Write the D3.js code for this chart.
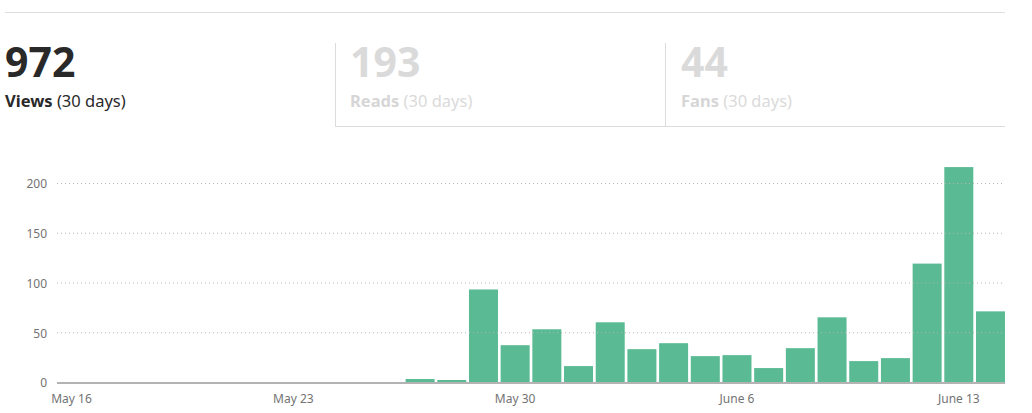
<!DOCTYPE html>
<html>
<head>
<meta charset="utf-8">
<script src="https://cdn.jsdelivr.net/npm/d3@7"></script>
<style>
  body { margin: 0; background: #fff; }
  svg { display: block; font-family: "Noto Sans", "Open Sans", sans-serif; }
</style>
</head>
<body>
<div id="chart"></div>
<script>
//// stats shown in the header tabs
const statValues = [972, 193, 44]
const statNames = ["Views", "Reads", "Fans"]
const statPeriod = "(30 days)"

//// daily views, May 16 .. June 14
const days = ["May 16", "May 17", "May 18", "May 19", "May 20", "May 21", "May 22", "May 23",
    "May 24", "May 25", "May 26", "May 27", "May 28", "May 29", "May 30", "May 31",
    "June 1", "June 2", "June 3", "June 4", "June 5", "June 6", "June 7", "June 8",
    "June 9", "June 10", "June 11", "June 12", "June 13", "June 14"]
const views = [0, 0, 0, 0, 0, 0, 0, 0, 0, 0, 0, 4, 3, 94, 38, 54,
    17, 61, 34, 40, 27, 28, 15, 35, 66, 22, 25, 120, 217, 72]
const xTickLabels = ["May 16", "May 23", "May 30", "June 6", "June 13"]
const yTicks = [0, 50, 100, 150, 200]

const width = 1032
const height = 413
const margin = {top: 184, right: 27, bottom: 29, left: 57}

const svg = d3.select("#chart").append("svg")
    .attr("width", width)
    .attr("height", height)

//// header: top rule, tabs and their dividers
svg.append("line")
    .attr("x1", 5).attr("x2", 1005)
    .attr("y1", 12.5).attr("y2", 12.5)
    .attr("stroke", "#dedede")

let tabX = [5, 350, 681]
let dividerX = [335.5, 665.5]
svg.selectAll(".divider")
    .data(dividerX)
    .join("line")
    .attr("class", "divider")
    .attr("x1", d => d).attr("x2", d => d)
    .attr("y1", 43).attr("y2", 126)
    .attr("stroke", "#dcdcdc")
svg.append("line")
    .attr("x1", 335).attr("x2", 1005)
    .attr("y1", 126.5).attr("y2", 126.5)
    .attr("stroke", "#dcdcdc")

for (let i = 0; i < statValues.length; i++) {
    let active = i == 0
    svg.append("text")
        .attr("x", tabX[i])
        .attr("y", 77)
        .attr("font-size", 41)
        .attr("font-weight", "bold")
        .attr("fill", active ? "#292929" : "#dadada")
        .text(statValues[i])
    let label = svg.append("text")
        .attr("x", tabX[i])
        .attr("y", 107)
        .attr("font-size", 16.5)
    label.append("tspan")
        .attr("font-weight", "bold")
        .attr("fill", active ? "#292929" : "#d6d6d6")
        .text(statNames[i])
    label.append("tspan")
        .attr("fill", active ? "#292929" : "#dadada")
        .text(" " + statPeriod)
}

//// scales
let x = d3.scaleBand()
    .domain(days)
    .range([margin.left, width - margin.right])
    .paddingInner(0.085)
    .paddingOuter(0)
let y = d3.scaleLinear()
    .domain([0, 200])
    .range([height - margin.bottom - 1, margin.top])

//// bars
svg.selectAll(".bar")
    .data(views)
    .join("rect")
    .attr("class", "bar")
    .attr("x", (d, i) => x(days[i]))
    .attr("width", x.bandwidth())
    .attr("y", d => y(d))
    .attr("height", d => y(0) - y(d))
    .attr("fill", "#5aba93")

//// dotted gridlines sit on top of the bars
svg.selectAll(".grid")
    .data(yTicks.filter(d => d > 0))
    .join("line")
    .attr("class", "grid")
    .attr("x1", margin.left).attr("x2", 1002)
    .attr("y1", d => y(d) - 0.5).attr("y2", d => y(d) - 0.5)
    .attr("stroke", "#b5b5b5")
    .attr("stroke-dasharray", "1,3")

//// baseline
svg.append("line")
    .attr("x1", margin.left).attr("x2", width - margin.right)
    .attr("y1", y(0)).attr("y2", y(0))
    .attr("stroke", "#b3b3b3")
    .attr("stroke-width", 2)

//// axes
let yAxis = g => g.attr("transform", `translate(${margin.left},0)`)
    .call(d3.axisLeft(y).tickValues(yTicks).tickSize(0).tickPadding(10))
    .call(g => g.select(".domain").remove())
let xAxis = g => g.attr("transform", `translate(0,${y(0)})`)
    .call(d3.axisBottom(x).tickValues(xTickLabels).tickSize(0).tickPadding(11))
    .call(g => g.select(".domain").remove())

svg.append("g").call(yAxis)
svg.append("g").call(xAxis)
svg.selectAll(".tick text")
    .attr("font-family", "Noto Sans, Open Sans, sans-serif")
    .attr("font-size", 12)
    .attr("fill", "#737373")
</script>
</body>
</html>
